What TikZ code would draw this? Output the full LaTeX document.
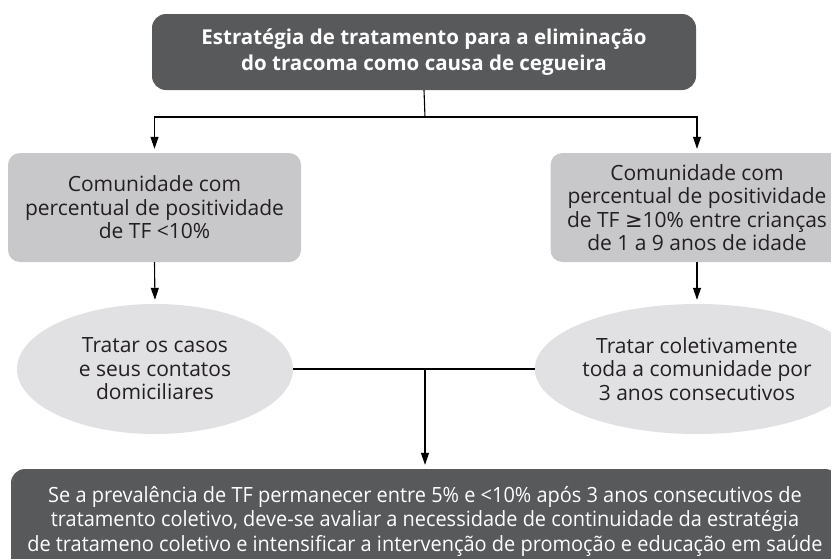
\documentclass[tikz,border=0pt]{standalone}
\usepackage{fontspec}
\setmainfont{Open Sans}
\newfontfamily\condfont[FakeStretch=0.95]{Open Sans}
\newfontfamily\symfont{DejaVu Sans}
\usetikzlibrary{shapes.geometric,arrows.meta}
\definecolor{darkbox}{RGB}{88,89,91}
\definecolor{midbox}{RGB}{200,200,202}
\definecolor{lightell}{RGB}{225,225,227}
\definecolor{txtdark}{RGB}{35,31,32}
\tikzset{
  darkstyle/.style={rectangle, rounded corners=14pt, fill=darkbox, text=white, align=center, inner sep=0pt},
  midstyle/.style={rectangle, rounded corners=12pt, fill=midbox, text=txtdark, align=center, inner sep=0pt,
    minimum width=293pt, minimum height=109pt, font=\fontsize{21}{23.5}\selectfont},
  ellstyle/.style={ellipse, fill=lightell, text=txtdark, align=center, inner sep=0pt,
    minimum width=276pt, minimum height=130pt, font=\fontsize{21}{23.5}\selectfont},
  conn/.style={line width=1.1pt, draw=black},
  arr/.style={conn, -{Triangle[length=12pt,width=8pt]}, shorten >=4pt},
}
\begin{document}
\begin{tikzpicture}[x=1pt,y=-1pt]
\useasboundingbox (0,0) rectangle (831,558);
\clip (0,0) rectangle (831,558);
\fill[white] (0,0) rectangle (831,558);
\node[darkstyle, minimum width=544pt, minimum height=76pt, font=\bfseries\fontsize{20.5}{26}\selectfont] (top) at (424,52)
  {Estratégia de tratamento para a eliminação\\do tracoma como causa de cegueira};
\node[midstyle] (left) at (154.5,207.5)
  {Comunidade com\\percentual de positividade\\de TF {<}10\%};
\node[midstyle] (right) at (697,207.5)
  {Comunidade com\\percentual de positividade\\de TF {\symfont ≥}10\% entre crianças\\de 1 a 9 anos de idade};
\node[ellstyle] (lell) at (155,369)
  {Tratar os casos\\e seus contatos\\domiciliares};
\node[ellstyle] (rell) at (697,369)
  {Tratar coletivamente\\toda a comunidade por\\3 anos consecutivos};
\node[darkstyle, minimum width=828pt, minimum height=104pt, font=\condfont\fontsize{21}{24.5}\selectfont] (bottom) at (425,521)
  {Se a prevalência de TF permanecer entre 5\% e {<}10\% após 3 anos consecutivos de\\
   tratamento coletivo, deve-se avaliar a necessidade de continuidade da estratégia\\
   de tratameno coletivo e intensificar a intervenção de promoção e educação em saúde};
\coordinate (split) at (425,117);
\coordinate (merge) at (425,369);
\draw[conn] (top.south) -- (split);
\draw[arr] (split) -| (left.north);
\draw[arr] (split) -| (right.north);
\draw[arr] (left.south) -- (lell.north);
\draw[arr] (right.south) -- (rell.north);
\draw[conn] (lell.east) -- (rell.west);
\draw[arr] (merge) -- (bottom.north);
\end{tikzpicture}
\end{document}
